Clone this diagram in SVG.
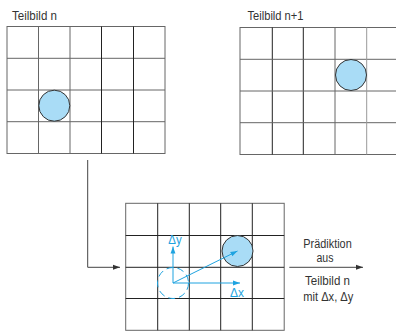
<svg xmlns="http://www.w3.org/2000/svg" width="396" height="332" viewBox="0 0 396 332">
<style>
.t{font-family:"Liberation Sans",Arial,sans-serif;font-size:12.5px;fill:#333}
.tb{font-family:"Liberation Sans",Arial,sans-serif;font-size:12.5px;fill:#1ea3e0}
.g{stroke:#666;stroke-width:1;fill:none}
.gd{stroke:#222;stroke-width:1;fill:none}
.c{fill:#a9dcf6;stroke:#333;stroke-width:1}
.b{stroke:#1ea3e0;stroke-width:1;fill:none}
.k{stroke:#444;stroke-width:1;fill:none}
</style>
<defs>
<marker id="ab" viewBox="0 0 10 10" refX="10" refY="5" markerWidth="7" markerHeight="7" orient="auto" markerUnits="userSpaceOnUse"><path d="M0,1.5 L10,5 L0,8.5 z" fill="#1ea3e0"/></marker>
<marker id="ak" viewBox="0 0 10 10" refX="10" refY="5" markerWidth="7" markerHeight="7" orient="auto" markerUnits="userSpaceOnUse"><path d="M0,1.5 L10,5 L0,8.5 z" fill="#333"/></marker>
</defs>
<g id="frame1">
<text class="t" x="12" y="19.5" textLength="45" lengthAdjust="spacingAndGlyphs">Teilbild n</text>
<rect class="g" x="7" y="26.5" width="158" height="127"/>
<path class="g" d="M38.5,26.5V153.5M70,26.5V153.5M7,58.3H165M7,90H165M7,121.7H165"/>
<path class="gd" d="M101.5,26.5V153.5M133.5,26.5V153.5"/>
<circle class="c" cx="54.3" cy="105.7" r="15.5"/>
</g>
<g id="frame2">
<text class="t" x="247.5" y="20" textLength="56" lengthAdjust="spacingAndGlyphs">Teilbild n+1</text>
<rect class="g" x="240" y="27.5" width="160" height="127"/>
<path class="gd" d="M272.3,27.5V154.5M303.3,27.5V154.5"/>
<path class="g" d="M335,27.5V154.5M240,59.3H400M240,91H400M240,122.7H400"/>
<path stroke="#999" d="M366.7,27.5V154.5"/>
<circle class="c" cx="351" cy="75" r="15.5"/>
</g>
<g id="frame3">
<rect class="g" x="125.7" y="203.3" width="158.5" height="127"/>
<path class="gd" d="M157.7,203.3V330.3M189.3,203.3V330.3M220.7,203.3V330.3M252.3,203.3V330.3M125.7,235.5H284.2M125.7,267.3H284.2M125.7,298.5H284.2"/>
<circle class="c" cx="237.5" cy="251" r="15.5"/>
<circle class="b" cx="173" cy="283" r="15.5" stroke-dasharray="7,4"/>
<path class="b" d="M173,283V246.5" marker-end="url(#ab)"/>
<path class="b" d="M173,283H240" marker-end="url(#ab)"/>
<path class="b" d="M173,283L237.5,251" marker-end="url(#ab)"/>
<text class="tb" x="168.3" y="244" textLength="13.4" lengthAdjust="spacingAndGlyphs">Δy</text>
<text class="tb" x="230" y="296.5" textLength="14" lengthAdjust="spacingAndGlyphs">Δx</text>
</g>
<g id="output">
<text class="t" x="303.3" y="248.3" textLength="48.4" lengthAdjust="spacingAndGlyphs">Prädiktion</text>
<text class="t" x="316.5" y="261.7" textLength="17" lengthAdjust="spacingAndGlyphs">aus</text>
<text class="t" x="305" y="285" textLength="45" lengthAdjust="spacingAndGlyphs">Teilbild n</text>
<text class="t" x="303.3" y="300.7" textLength="50" lengthAdjust="spacingAndGlyphs">mit Δx, Δy</text>
</g>
<g id="connectors">
<path class="k" d="M87.7,160V267.3H120" marker-end="url(#ak)"/>
<path class="k" d="M289.3,267.3H363" marker-end="url(#ak)"/>
</g>
</svg>
